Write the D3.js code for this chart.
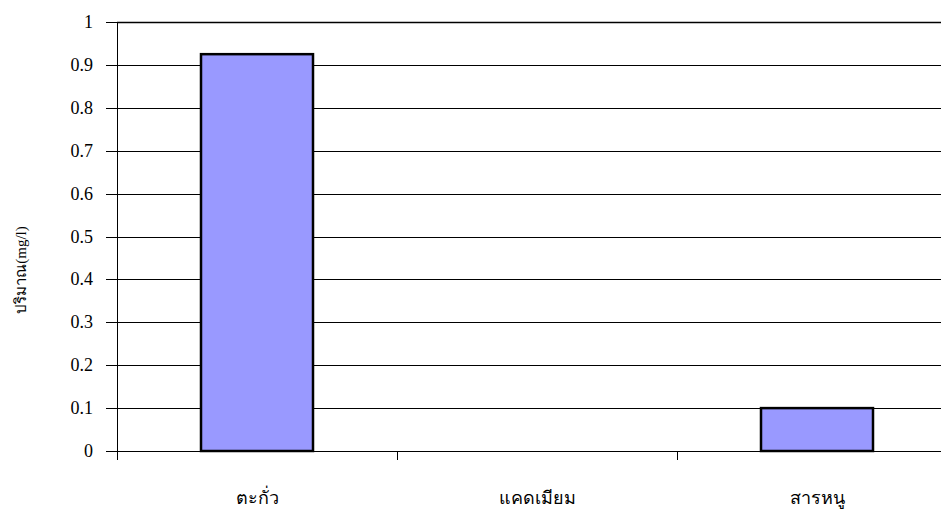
<!DOCTYPE html>
<html><head><meta charset="utf-8">
<script src="https://cdn.jsdelivr.net/npm/d3@7"></script>
</head><body style="margin:0;background:#fff">
<svg id="c" width="941" height="512" font-family="Liberation Serif" style="display:block;font-family:'Liberation Serif'"></svg>
<script>
const categories = ["ตะกั่ว", "แคดเมียม", "สารหนู"];
const values = [0.925, 0, 0.1];
const yTicks = [0, 0.1, 0.2, 0.3, 0.4, 0.5, 0.6, 0.7, 0.8, 0.9, 1];
const yTitle = "ปริมาณ(mg/l)";

(function () {
const svg = d3.select("#c");
const mL = 117, mR = 957, mT = 22, mB = 451;
const x = d3.scaleBand().domain(categories).range([mL, mR]).paddingInner(0).paddingOuter(0);
const y = d3.scaleLinear().domain([0, 1]).range([mB, mT]);

svg.append("g").selectAll("line").data(yTicks).join("line")
  .attr("x1", mL).attr("x2", mR)
  .attr("y1", d => Math.round(y(d)) + 0.5).attr("y2", d => Math.round(y(d)) + 0.5)
  .attr("stroke", "#000").attr("stroke-width", d => d === 1 ? 1.6 : 1);

svg.append("line").attr("x1", mL + 0.5).attr("x2", mL + 0.5).attr("y1", mT).attr("y2", mB).attr("stroke", "#000");
svg.append("g").selectAll("line").data(yTicks).join("line")
  .attr("x1", mL - 11).attr("x2", mL)
  .attr("y1", d => Math.round(y(d)) + 0.5).attr("y2", d => Math.round(y(d)) + 0.5)
  .attr("stroke", "#000");
yTicks.forEach(d => {
  svg.append("text")
    .attr("x", mL - 24).attr("y", y(d) + 6)
    .attr("text-anchor", "end")
    .style("font-family", "'Liberation Serif'").style("font-size", "18px")
    .text(d3.format("")(d));
});

svg.append("line").attr("x1", mL).attr("x2", mR).attr("y1", mB + 0.5).attr("y2", mB + 0.5).attr("stroke", "#000");
const xTickPos = [mL, mL + x.bandwidth(), mL + 2 * x.bandwidth(), mR];
svg.append("g").selectAll("line").data(xTickPos).join("line")
  .attr("x1", d => Math.round(d) + 0.5).attr("x2", d => Math.round(d) + 0.5)
  .attr("y1", mB).attr("y2", mB + 9).attr("stroke", "#000");
categories.forEach(c => {
  svg.append("text")
    .attr("x", x(c) + x.bandwidth() / 2).attr("y", 504)
    .attr("text-anchor", "middle")
    .style("font-family", "'Liberation Serif'").style("font-size", "18px")
    .text(c);
});

const bw = x.bandwidth() * 0.4;
svg.append("g").selectAll("rect").data(categories.map((c, i) => ({c, v: values[i]})).filter(d => d.v > 0)).join("rect")
  .attr("x", d => x(d.c) + (x.bandwidth() - bw) / 2)
  .attr("width", bw)
  .attr("y", d => y(d.v))
  .attr("height", d => y(0) - y(d.v))
  .attr("fill", "#9999ff").attr("stroke", "#000").attr("stroke-width", 2.5);

svg.append("text").attr("transform", "translate(26,270) rotate(-90)")
  .attr("text-anchor", "middle")
  .style("font-family", "'Liberation Serif'").style("font-size", "15px")
  .text(yTitle);
})();
</script>
</body></html>
